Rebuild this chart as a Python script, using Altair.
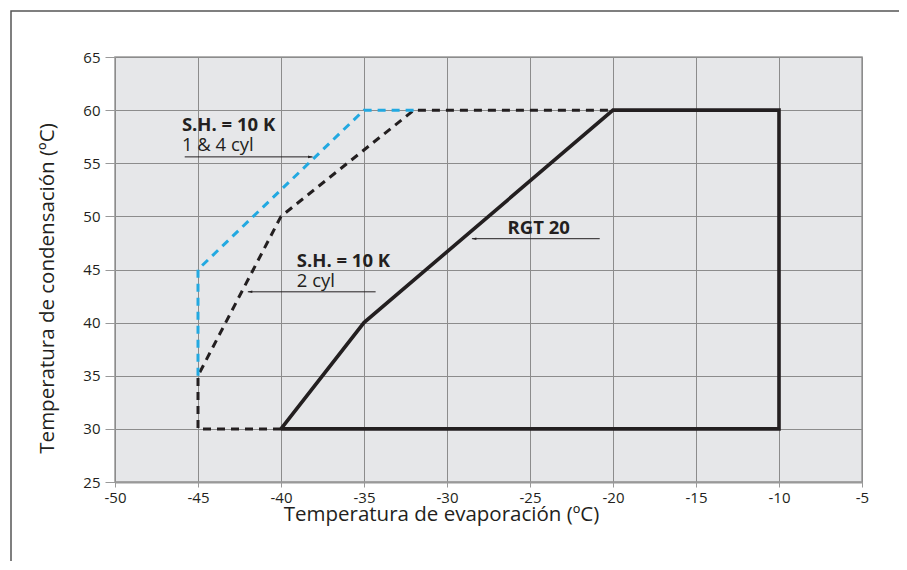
import altair as alt
import pandas as pd

# ---- data ----
rgt_x = [-40, -35, -20, -10, -10, -40]
rgt_y = [30, 40, 60, 60, 30, 30]

cyl2_x = [-40, -45, -45, -40, -32, -20]
cyl2_y = [30, 30, 35, 50, 60, 60]

cyl14_x = [-45, -45, -35, -32]
cyl14_y = [35, 45, 60, 60]

label_text = ["S.H. = 10 K", "1 & 4 cyl", "S.H. = 10 K", "2 cyl", "RGT 20"]
label_x = [-45.97, -45.97, -39.05, -39.05, -26.35]
label_y = [58.05, 56.2, 45.25, 43.4, 48.35]
label_bold = [True, False, True, False, True]

arrow_from_x = [-45.8, -34.3, -20.8]
arrow_to_x = [-38.1, -42.0, -28.5]
arrow_y = [55.6, 42.9, 47.9]

x_ticks = [-50, -45, -40, -35, -30, -25, -20, -15, -10, -5]
y_ticks = [25, 30, 35, 40, 45, 50, 55, 60, 65]

DARK = "#231f20"
BLUE = "#22a9e1"
FONT = "Open Sans"

xs = alt.Scale(domain=[-50, -5], nice=False, zero=False)
ys = alt.Scale(domain=[25, 65], nice=False, zero=False)

X = alt.X("x:Q", scale=xs,
          axis=alt.Axis(values=x_ticks, title="Temperatura de evaporación (ºC)",
                        titleX=326, titleY=38, titleBaseline="alphabetic",
                        titleAlign="center", titleFontSize=20.5, titleFontWeight="normal",
                        titleFont=FONT, titleColor=DARK,
                        labelExpr="'' + datum.value",
                        labelFontSize=15, labelFont=FONT, labelColor=DARK, labelPadding=3,
                        tickSize=5, tickColor="#999999", domainColor="#999999",
                        domainWidth=2, grid=True, gridColor="#8c8c8c", gridWidth=1,
                        labelFlush=False))
Y = alt.Y("y:Q", scale=ys,
          axis=alt.Axis(values=y_ticks, title="Temperatura de condensación (ºC)",
                        titleX=-62, titleY=231, titleBaseline="alphabetic",
                        titleAlign="center", titleAngle=-90, titleFontSize=20.5,
                        titleFontWeight="normal", titleFont=FONT, titleColor=DARK,
                        labelExpr="'' + datum.value",
                        labelFontSize=15, labelFont=FONT, labelColor=DARK, labelPadding=5,
                        tickSize=10, tickColor="#999999", domain=False,
                        grid=True, gridColor="#8c8c8c", gridWidth=1, labelFlush=False))

rgt = pd.DataFrame({"x": rgt_x, "y": rgt_y, "o": range(len(rgt_x))})
c2 = pd.DataFrame({"x": cyl2_x, "y": cyl2_y, "o": range(len(cyl2_x))})
c14 = pd.DataFrame({"x": cyl14_x, "y": cyl14_y, "o": range(len(cyl14_x))})

grid_layer = alt.Chart(pd.DataFrame({"x": [-50], "y": [25]})).mark_point(opacity=0).encode(x=X, y=Y)

rgt_line = alt.Chart(rgt).mark_line(color=DARK, strokeWidth=3.6, strokeJoin="miter").encode(
    x=alt.X("x:Q", scale=xs), y=alt.Y("y:Q", scale=ys), order="o:Q")
c2_line = alt.Chart(c2).mark_line(color=DARK, strokeWidth=3, strokeDash=[8, 6]).encode(
    x=alt.X("x:Q", scale=xs), y=alt.Y("y:Q", scale=ys), order="o:Q")
c14_line = alt.Chart(c14).mark_line(color=BLUE, strokeWidth=3, strokeDash=[8, 6]).encode(
    x=alt.X("x:Q", scale=xs), y=alt.Y("y:Q", scale=ys), order="o:Q")

labels = pd.DataFrame({"t": label_text, "x": label_x, "y": label_y, "b": label_bold})
bold_txt = alt.Chart(labels[labels.b]).mark_text(
    align="left", baseline="alphabetic", font=FONT, fontSize=18.5, fontWeight="bold",
    color=DARK).encode(x=alt.X("x:Q", scale=xs), y=alt.Y("y:Q", scale=ys), text="t:N")
norm_txt = alt.Chart(labels[~labels.b]).mark_text(
    align="left", baseline="alphabetic", font=FONT, fontSize=18.5, fontWeight="normal",
    color=DARK).encode(x=alt.X("x:Q", scale=xs), y=alt.Y("y:Q", scale=ys), text="t:N")

arrows = pd.DataFrame({"x": arrow_from_x, "x2": arrow_to_x, "y": arrow_y})
arrow_rule = alt.Chart(arrows).mark_rule(color=DARK, strokeWidth=1).encode(
    x=alt.X("x:Q", scale=xs), x2="x2:Q", y=alt.Y("y:Q", scale=ys))
arrows["dir"] = ["r" if b > a else "l" for a, b in zip(arrow_from_x, arrow_to_x)]
head_r = alt.Chart(arrows[arrows.dir == "r"]).mark_point(
    shape="M0,0L-1,-0.28L-1,0.28Z", size=81, filled=True, color=DARK, opacity=1).encode(
    x=alt.X("x2:Q", scale=xs), y=alt.Y("y:Q", scale=ys))
head_l = alt.Chart(arrows[arrows.dir == "l"]).mark_point(
    shape="M0,0L1,-0.28L1,0.28Z", size=81, filled=True, color=DARK, opacity=1).encode(
    x=alt.X("x2:Q", scale=xs), y=alt.Y("y:Q", scale=ys))

frame = alt.Chart(pd.DataFrame({"a": [0]})).mark_rect(
    filled=False, stroke="#555555", strokeWidth=1.5, fill=None).encode(
    x=alt.value(-104), x2=alt.value(787), y=alt.value(-46), y2=alt.value(640))

chart = alt.layer(grid_layer, rgt_line, c2_line, c14_line, bold_txt, norm_txt,
                  arrow_rule, head_r, head_l, frame).properties(
    width=747, height=425,
    autosize=alt.AutoSizeParams(type="none"),
    padding={"left": 107, "top": 49, "right": 37, "bottom": 79},
    background="white",
).configure_view(fill="#e6e7e9", stroke="#999999", strokeWidth=1.5)

chart.save("out.html", embed_options={"renderer": "svg", "actions": False})
